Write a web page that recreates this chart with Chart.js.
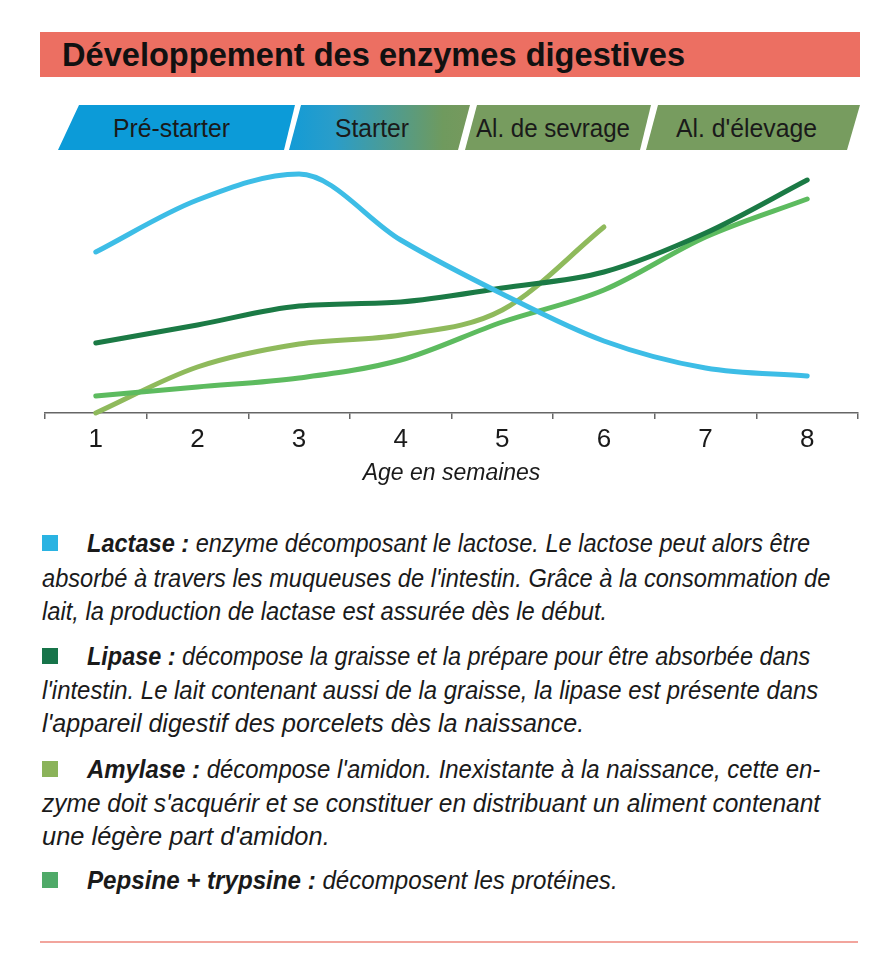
<!DOCTYPE html>
<html lang="fr">
<head>
<meta charset="utf-8">
<script src="https://cdn.jsdelivr.net/npm/chart.js@4"></script>
<style>
  html, body { margin: 0; padding: 0; background: #fff; }
  body { width: 880px; height: 973px; position: relative; overflow: hidden;
         font-family: 'Liberation Sans', Arial, sans-serif; color: #1a1a1a; }
  .titlebar { position: absolute; left: 40px; top: 32px; width: 820px; height: 45px; background: #ec6f62; }
  .title { position: absolute; left: 62px; top: 34px; font-size: 34px; font-weight: bold; line-height: 40px;
           white-space: nowrap; transform-origin: left center; color: #111; }
  #phases { position: absolute; left: 0; top: 0; }
  #chart { position: absolute; left: 0; top: 160px; }
  .ln { position: absolute; font-size: 25px; line-height: 28px; font-style: italic; white-space: nowrap;
        transform-origin: left center; color: #1a1a1a; }
  .ln b { font-weight: bold; }
  .sq { position: absolute; left: 42px; width: 16px; height: 16px; }
  .rule { position: absolute; left: 40px; top: 941px; width: 818px; height: 2px; background: #f2a59d; }
</style>
</head>
<body>
<div class="titlebar"></div>
<div class="title" data-w="623">Développement des enzymes digestives</div>

<svg id="phases" width="880" height="160">
  <defs>
    <linearGradient id="g2" gradientUnits="userSpaceOnUse" x1="289" y1="0" x2="470" y2="0">
      <stop offset="0" stop-color="#139bd6"/>
      <stop offset="0.25" stop-color="#2a9dc9"/>
      <stop offset="0.85" stop-color="#6f9a5e"/>
      <stop offset="1" stop-color="#76995d"/>
    </linearGradient>
  </defs>
  <polygon points="79,105 295,105 284,150 58,150" fill="#0c9bd8"/>
  <polygon points="301,105 470,105 458,150 289,150" fill="url(#g2)"/>
  <polygon points="477,105 651,105 640,150 465,150" fill="#779c5f"/>
  <polygon points="658,105 860,105 847,150 646,150" fill="#779c5f"/>
  <g font-family="'Liberation Sans', Arial, sans-serif" font-size="25" fill="#1a1a1a" lengthAdjust="spacingAndGlyphs">
    <text x="113" y="137" textLength="117" lengthAdjust="spacingAndGlyphs">Pré-starter</text>
    <text x="335" y="137" textLength="74" lengthAdjust="spacingAndGlyphs">Starter</text>
    <text x="476" y="137" textLength="154" lengthAdjust="spacingAndGlyphs">Al. de sevrage</text>
    <text x="676" y="137" textLength="141" lengthAdjust="spacingAndGlyphs">Al. d'élevage</text>
  </g>
</svg>

<canvas id="chart" width="880" height="330" style="width:880px;height:330px"></canvas>

<div id="legend"></div>
<div class="rule"></div>

<script>
'use strict';

/* ── données ── */
const WEEKS   = ['1', '2', '3', '4', '5', '6', '7', '8'];
const LACTASE = [161, 213, 239, 173, 119, 72, 45, 37];
const LIPASE  = [70, 88, 107, 111, 125, 141, 180, 233];
const AMYLASE = [0, 46, 69, 78, 103, 186, null, null];
const PEPSINE = [17, 26, 35, 53, 91, 123, 176, 214];

const COLORS = {
  lactase: '#3dbde6',
  lipase : '#1b7a45',
  amylase: '#8fba5c',
  pepsine: '#5dbb5f',
};

/* ── texte de légende : [y centre, x début, largeur, html, couleur carré] ── */
const LEGEND_LINES = [
  [543, 87, 723, '<b>Lactase :</b> enzyme décomposant le lactose. Le lactose peut alors être', '#2ab3e2'],
  [578, 42, 788, "absorbé à travers les muqueuses de l'intestin. Grâce à la consommation de"],
  [611, 42, 565, 'lait, la production de lactase est assurée dès le début.'],
  [656, 87, 723, '<b>Lipase :</b> décompose la graisse et la prépare pour être absorbée dans', '#17744a'],
  [690, 42, 776, "l'intestin. Le lait contenant aussi de la graisse, la lipase est présente dans"],
  [723, 42, 542, "l'appareil digestif des porcelets dès la naissance."],
  [769, 87, 733, "<b>Amylase :</b> décompose l'amidon. Inexistante à la naissance, cette en-", '#8bb35a'],
  [803, 42, 778, "zyme doit s'acquérir et se constituer en distribuant un aliment contenant"],
  [836, 42, 288, "une légère part d'amidon."],
  [880, 87, 531, '<b>Pepsine + trypsine :</b> décomposent les protéines.', '#4faa68'],
];

function fitWidth(el, w) {
  const natural = el.scrollWidth;
  if (natural > 0) el.style.transform = `scaleX(${w / natural})`;
}

function drawLegend() {
  const box = document.getElementById('legend');
  LEGEND_LINES.forEach(([y, x, w, html, sq]) => {
    if (sq) {
      const s = document.createElement('div');
      s.className = 'sq';
      s.style.top = (y - 8) + 'px';
      s.style.background = sq;
      box.appendChild(s);
    }
    const d = document.createElement('div');
    d.className = 'ln';
    d.style.left = x + 'px';
    d.style.top = (y - 14) + 'px';
    d.innerHTML = html;
    box.appendChild(d);
    fitWidth(d, w);
  });
  const t = document.querySelector('.title');
  fitWidth(t, +t.dataset.w);
}

function line(label, data, color) {
  return {
    label, data,
    borderColor: color,
    backgroundColor: color,
    borderWidth: 5,
    borderCapStyle: 'round',
    pointRadius: 0,
    cubicInterpolationMode: 'monotone',
    clip: false,
  };
}

function drawChart() {
  Chart.defaults.font.family = "'Liberation Sans', Arial, sans-serif";
  Chart.defaults.color = '#1a1a1a';
  new Chart(document.getElementById('chart'), {
    type: 'line',
    data: {
      labels: WEEKS,
      datasets: [
        line('Lactase', LACTASE, COLORS.lactase),
        line('Lipase', LIPASE, COLORS.lipase),
        line('Pepsine + trypsine', PEPSINE, COLORS.pepsine),
        line('Amylase', AMYLASE, COLORS.amylase),
      ],
    },
    options: {
      responsive: false,
      animation: false,
      devicePixelRatio: 1,
      layout: { padding: { left: 45, right: 22, top: 8, bottom: 0 } },
      plugins: { legend: { display: false }, tooltip: { enabled: false } },
      scales: {
        x: {
          offset: true,
          grid: { offset: true, drawOnChartArea: false, drawTicks: true, tickLength: 6, color: '#666', lineWidth: 1.5 },
          border: { display: true, color: '#666', width: 1.5 },
          ticks: { font: { size: 26 }, padding: 5, color: '#1a1a1a', maxRotation: 0 },
          title: { display: true, text: 'Age en semaines', font: { size: 23, style: 'italic' }, color: '#1a1a1a', padding: { top: 0, bottom: 3 } },
          afterFit: s => { s.height = 77; },
        },
        y: { display: false, min: 0, max: 245 },
      },
    },
  });
}

document.addEventListener('DOMContentLoaded', () => {
  drawChart();
  drawLegend();
});
</script>
</body>
</html>
